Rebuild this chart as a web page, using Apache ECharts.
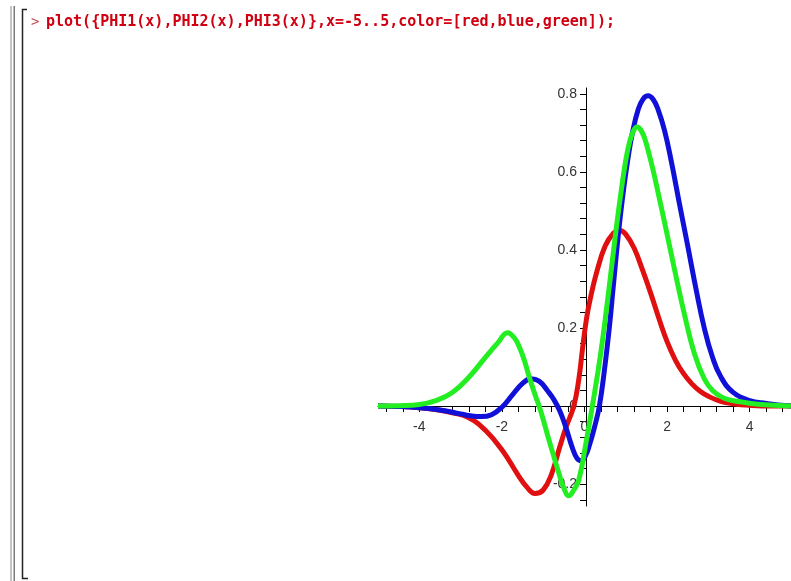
<!DOCTYPE html>
<html>
<head>
<meta charset="utf-8">
<script src="https://cdn.jsdelivr.net/npm/echarts@6/dist/echarts.min.js"></script>
<style>
  html, body { margin: 0; padding: 0; background: #ffffff; }
  #chart { width: 791px; height: 581px; }
</style>
</head>
<body>
<div id="chart"></div>
<script>
// PHI1 (red)
const phi1X = [-5, -4.5, -4, -3.6, -3.2, -2.8, -2.4, -2.0, -1.6, -1.4, -1.2, -1.0, -0.8, -0.6, -0.45, -0.26, -0.14, -0.05, 0.05, 0.15, 0.3, 0.5, 0.7, 0.86, 1.0, 1.2, 1.4, 1.6, 1.8, 2.0, 2.2, 2.4, 2.6, 2.8, 3.0, 3.3, 3.6, 4.0, 4.5, 5];
const phi1Y = [0, -0.001, -0.004, -0.009, -0.017, -0.03, -0.062, -0.112, -0.178, -0.207, -0.224, -0.215, -0.175, -0.105, -0.055, 0, 0.067, 0.145, 0.225, 0.28, 0.345, 0.41, 0.443, 0.45, 0.44, 0.405, 0.35, 0.29, 0.225, 0.165, 0.118, 0.083, 0.057, 0.038, 0.025, 0.012, 0.006, 0.002, 0, 0];

// PHI2 (blue)
const phi2X = [-5, -4.5, -4, -3.5, -3, -2.75, -2.5, -2.25, -2, -1.75, -1.5, -1.3, -1.1, -0.9, -0.75, -0.6, -0.45, -0.3, -0.18, -0.08, 0.02, 0.12, 0.24, 0.36, 0.48, 0.6, 0.7, 0.82, 0.94, 1.06, 1.16, 1.3, 1.42, 1.54, 1.66, 1.78, 1.94, 2.1, 2.3, 2.5, 2.7, 2.9, 3.1, 3.3, 3.6, 4.0, 4.4, 5];
const phi2Y = [0, -0.001, -0.004, -0.01, -0.02, -0.025, -0.027, -0.022, -0.003, 0.028, 0.058, 0.07, 0.064, 0.04, 0.018, -0.012, -0.055, -0.105, -0.134, -0.14, -0.128, -0.1, -0.055, 0, 0.09, 0.2, 0.31, 0.44, 0.55, 0.64, 0.70, 0.76, 0.787, 0.795, 0.786, 0.76, 0.705, 0.628, 0.518, 0.41, 0.30, 0.20, 0.125, 0.075, 0.035, 0.014, 0.007, 0];

// PHI3 (green)
const phi3X = [-5, -4.5, -4, -3.6, -3.2, -2.8, -2.4, -2.1, -1.86, -1.7, -1.58, -1.45, -1.34, -1.18, -1.1, -1.02, -0.86, -0.62, -0.5, -0.38, -0.26, -0.14, 0.02, 0.19, 0.38, 0.54, 0.66, 0.78, 0.9, 1.0, 1.1, 1.2, 1.28, 1.36, 1.45, 1.54, 1.66, 1.78, 1.94, 2.18, 2.42, 2.66, 2.9, 3.1, 3.38, 3.77, 4.2, 5];
const phi3Y = [0, 0.001, 0.004, 0.014, 0.035, 0.074, 0.125, 0.162, 0.188, 0.175, 0.152, 0.115, 0.075, 0.024, 0, -0.027, -0.087, -0.172, -0.21, -0.23, -0.215, -0.19, -0.104, 0, 0.126, 0.255, 0.36, 0.465, 0.56, 0.63, 0.68, 0.708, 0.715, 0.708, 0.688, 0.655, 0.605, 0.548, 0.47, 0.35, 0.235, 0.135, 0.07, 0.04, 0.02, 0.011, 0.005, 0];

// Labelled tick values
const xTickLabels = [-4, -2, 0, 2, 4];
const yTickLabels = [-0.2, 0, 0.2, 0.4, 0.6, 0.8];

// Small ticks: every 0.4 along x, every 0.04 along y
const xMinorTicks = [];
for (let k = -12; k <= 12; k++) xMinorTicks.push(Math.round(k * 4) / 10);
const yMinorTicks = [];
for (let k = -6; k <= 20; k++) yMinorTicks.push(Math.round(k * 4) / 100);

const pairs = (xs, ys) => xs.map((x, i) => [x, ys[i]]);

const command = 'plot({PHI1(x),PHI2(x),PHI3(x)},x=-5..5,color=[red,blue,green]);';

// Plot box and view ranges
const plotBox = { left: 378, top: 88, width: 416, height: 418 };
const xMin = -5, xMax = 5;
const yMin = -0.256, yMax = 0.815;

// Both axes cross at the origin: shift each one from the grid edge to the zero line
const xAxisShift = -((0 - yMin) / (yMax - yMin)) * plotBox.height;
const yAxisShift = -((0 - xMin) / (xMax - xMin)) * plotBox.width;

const labelFont = { fontSize: 14, color: '#333333', fontFamily: '"Liberation Sans", Arial, sans-serif' };

const chart = echarts.init(document.getElementById('chart'), null, { renderer: 'canvas' });

function curve(name, data, color) {
  return {
    name: name,
    type: 'line',
    data: data,
    showSymbol: false,
    smooth: 0.45,
    lineStyle: { color: color, width: 5 },
    itemStyle: { color: color },
    emphasis: { disabled: true }
  };
}

chart.setOption({
  animation: false,
  backgroundColor: '#ffffff',
  grid: Object.assign({ containLabel: false }, plotBox),
  xAxis: {
    type: 'value',
    min: xMin,
    max: xMax,
    offset: xAxisShift,
    axisLine: { onZero: false, lineStyle: { color: '#000000', width: 1 } },
    axisTick: { customValues: xMinorTicks, length: 6, lineStyle: { color: '#000000', width: 1 } },
    axisLabel: Object.assign({ customValues: xTickLabels, margin: 14 }, labelFont),
    splitLine: { show: false }
  },
  yAxis: {
    type: 'value',
    min: yMin,
    max: yMax,
    offset: yAxisShift,
    axisLine: { onZero: false, lineStyle: { color: '#000000', width: 1 } },
    axisTick: { customValues: yMinorTicks, length: 6, lineStyle: { color: '#000000', width: 1 } },
    axisLabel: Object.assign({ customValues: yTickLabels, margin: 9 }, labelFont),
    splitLine: { show: false }
  },
  series: [
    curve('PHI1', pairs(phi1X, phi1Y), '#e01010'),
    curve('PHI2', pairs(phi2X, phi2Y), '#1010d8'),
    curve('PHI3', pairs(phi3X, phi3Y), '#22ee22')
  ],
  graphic: [
    // worksheet margin rules
    { type: 'rect', shape: { x: 10, y: 6, width: 2, height: 575 }, style: { fill: '#c4c4c4' }, silent: true },
    { type: 'rect', shape: { x: 13.5, y: 6, width: 1.5, height: 575 }, style: { fill: '#7a7a7a' }, silent: true },
    // execution-group bracket
    { type: 'polyline', shape: { points: [[27, 9.5], [22.5, 9.5], [22.5, 578.5], [28, 578.5]] },
      style: { stroke: '#222222', lineWidth: 1.5, fill: null }, silent: true },
    // prompt and input line
    { type: 'text', x: 31, y: 22, silent: true,
      style: { text: '>', font: '14px "DejaVu Sans Mono", monospace', fill: '#c04848', verticalAlign: 'middle' } },
    { type: 'text', x: 46, y: 22, silent: true,
      style: { text: command, font: 'bold 15px "DejaVu Sans Mono", monospace', fill: '#d00010', verticalAlign: 'middle' } }
  ]
});
</script>
</body>
</html>
